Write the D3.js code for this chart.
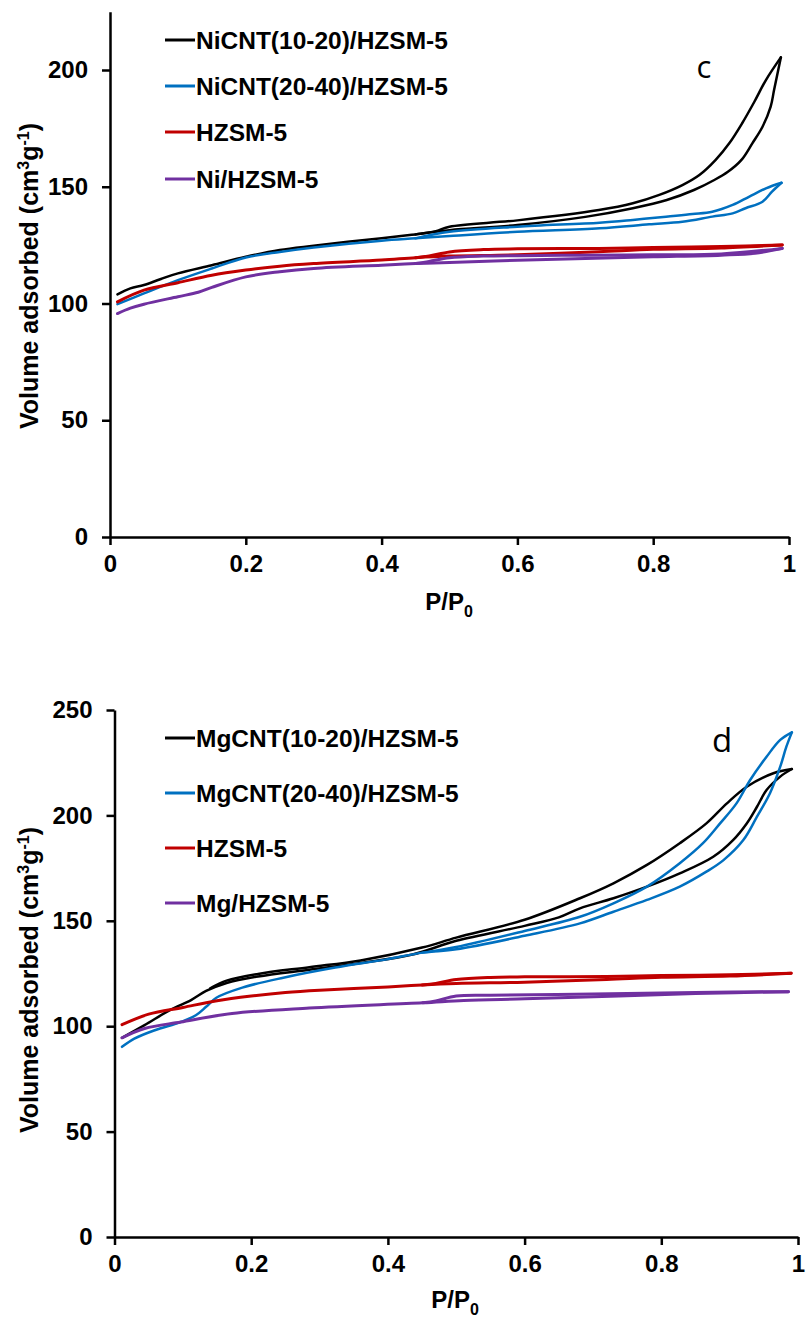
<!DOCTYPE html>
<html><head><meta charset="utf-8">
<script src="https://cdn.jsdelivr.net/npm/d3@7"></script>
<style>body{margin:0;background:#fff}svg{display:block}text{font-family:"Liberation Sans",Arial,sans-serif}</style>
</head><body><svg id="c" width="811" height="1317"></svg>
<script>
// ---------- Panel c data ----------
const legendC = ["NiCNT(10-20)/HZSM-5","NiCNT(20-40)/HZSM-5","HZSM-5","Ni/HZSM-5"];
const colors = ["#000000","#0070C0","#C00000","#7030A0"];
const yTicksC = [0,50,100,150,200];
const yTicksD = [0,50,100,150,200,250];
const xTicks = [0,0.2,0.4,0.6,0.8,1];

const niCnt1020Ads = [[0.011,103.9],[0.03,106.5],[0.05,107.9],[0.075,110.5],[0.1,112.9],[0.15,116.4],[0.2,120],[0.25,122.9],[0.3,124.7],[0.35,126.4],[0.4,127.9],[0.45,129.6],[0.5,131.4],[0.6,133.6],[0.7,137.1],[0.77,140.8],[0.82,144.3],[0.86,148.6],[0.89,152.9],[0.91,156.4],[0.93,161.5],[0.946,168.6],[0.961,175.7],[0.973,184.3],[0.978,191.4],[0.988,205.4]];
const niCnt1020Des = [[0.988,205.4],[0.966,195.7],[0.949,186.4],[0.931,177.2],[0.912,168.6],[0.892,161.5],[0.868,155],[0.843,150.7],[0.809,146.5],[0.77,142.9],[0.72,140],[0.6,135.6],[0.5,132.9],[0.48,131],[0.45,129.6]];
const niCnt2040Ads = [[0.011,99.7],[0.05,104.3],[0.1,110],[0.15,115],[0.2,119.7],[0.25,122.1],[0.3,124],[0.4,126.9],[0.45,127.9],[0.5,128.9],[0.6,130.7],[0.721,132.2],[0.794,133.9],[0.843,135],[0.887,137.2],[0.917,138.6],[0.936,140.8],[0.961,143.6],[0.975,147.9],[0.989,151.7]];
const niCnt2040Des = [[0.989,151.7],[0.966,149.3],[0.941,145.7],[0.917,142.2],[0.887,139.3],[0.858,138.3],[0.819,137.2],[0.77,135.8],[0.721,134.6],[0.6,132.9],[0.5,130.7],[0.45,127.9]];
const hzsmAds = [[0.011,100.7],[0.05,105.7],[0.1,108.9],[0.15,112.1],[0.2,114.3],[0.25,116],[0.3,117.1],[0.4,118.6],[0.45,119.6],[0.5,120.3],[0.6,120.9],[0.72,122.2],[0.8,123.2],[0.9,123.8],[0.99,125.1]];
const hzsmDes = [[0.99,125.1],[0.9,124.4],[0.8,124],[0.72,123.6],[0.6,123.4],[0.55,123.1],[0.5,122.1],[0.47,120.3],[0.45,119.6]];
const niHzsmAds = [[0.011,95.7],[0.03,98],[0.05,99.7],[0.1,102.9],[0.13,104.8],[0.15,106.9],[0.2,111.4],[0.25,113.6],[0.3,115],[0.4,116.4],[0.45,117.1],[0.5,117.6],[0.6,118.5],[0.7,119.3],[0.8,120],[0.9,120.7],[0.95,121.5],[0.99,123.6]];
const niHzsmDes = [[0.99,123.6],[0.9,121.2],[0.8,120.9],[0.7,120.7],[0.6,120.5],[0.55,120.3],[0.5,119.6],[0.47,118],[0.45,117.1]];

// ---------- Panel d data ----------
const legendD = ["MgCNT(10-20)/HZSM-5","MgCNT(20-40)/HZSM-5","HZSM-5","Mg/HZSM-5"];
const mgCnt1020Ads = [[0.011,94.5],[0.044,100.5],[0.081,107.6],[0.112,112.4],[0.134,116.7],[0.164,120.5],[0.21,123.6],[0.285,126.8],[0.36,130],[0.436,134],[0.5,140.5],[0.6,147.6],[0.65,151.6],[0.681,155.9],[0.73,160.7],[0.779,166.2],[0.827,172.5],[0.876,180.4],[0.905,188.3],[0.925,196.2],[0.94,204.1],[0.954,212],[0.974,218.4],[0.991,222]];
const mgCnt1020Des = [[0.991,222],[0.964,220],[0.925,213.6],[0.896,205.7],[0.866,196.2],[0.827,186.8],[0.779,176.5],[0.73,167.8],[0.681,160.7],[0.6,150.5],[0.5,142],[0.45,137.3],[0.36,131.2],[0.285,128],[0.21,124.8],[0.164,121.6],[0.14,118]];
const mgCnt2040Ads = [[0.011,90.2],[0.029,94.1],[0.059,98.1],[0.097,102],[0.119,105.2],[0.134,109.2],[0.149,113.5],[0.187,118.3],[0.247,123],[0.323,127.8],[0.398,131.7],[0.451,134.9],[0.5,136.5],[0.6,142.9],[0.681,148.8],[0.73,154.3],[0.779,159.9],[0.827,166.2],[0.866,173.3],[0.891,178.8],[0.92,188.3],[0.94,199.4],[0.959,210.5],[0.974,223.1],[0.983,232.6],[0.991,239.4]];
const mgCnt2040Des = [[0.991,239.4],[0.974,235.8],[0.954,227.8],[0.93,216.8],[0.91,205.7],[0.886,196.2],[0.861,186.8],[0.827,177.3],[0.779,166.2],[0.73,158.3],[0.681,151.9],[0.6,145.2],[0.5,137.6],[0.451,134.9]];
const mgHzsmAds = [[0.011,94.5],[0.044,98.9],[0.097,102],[0.172,106],[0.285,108.6],[0.451,111.1],[0.511,112.2],[0.6,113],[0.738,114.3],[0.85,115.5],[0.986,116.4]];
const mgHzsmDes = [[0.986,116.4],[0.85,116],[0.7,115.3],[0.55,114.7],[0.5,114.3],[0.47,112],[0.451,111.1]];

const widths = [2.5,2.5,3,3];
const svg = d3.select("#c");

function panel(cfg){
  const x = d3.scaleLinear().domain([0,1]).range(cfg.xr);
  const y = d3.scaleLinear().domain(cfg.yd).range(cfg.yr);
  const g = svg.append("g");
  const line = d3.line().x(d=>x(d[0])).y(d=>y(d[1])).curve(d3.curveCatmullRom.alpha(0.5));
  cfg.series.forEach((s,i)=>{
    [s[0],s[1]].forEach(arr=>{
      g.append("path").attr("d",line(arr)).attr("fill","none")
        .attr("stroke",colors[i]).attr("stroke-width",widths[i])
        .attr("stroke-linejoin","round").attr("stroke-linecap","round");
    });
  });
  const ya = g.append("g").attr("transform",`translate(${cfg.xr[0]},0)`)
    .call(d3.axisLeft(y).tickValues(cfg.yt).tickSize(8).tickSizeOuter(0).tickPadding(cfg.ypad));
  const xa = g.append("g").attr("transform",`translate(0,${cfg.yr[0]})`)
    .call(d3.axisBottom(x).tickValues(xTicks).tickSize(8).tickSizeOuter(0).tickPadding(10).tickFormat(d=>String(+d.toFixed(1))));
  [ya,xa].forEach(a=>{
    a.select(".domain").attr("stroke","#000").attr("stroke-width",2.5);
    a.selectAll(".tick line").attr("stroke","#000").attr("stroke-width",2.5);
    a.selectAll(".tick text").attr("fill","#000").style("font-size","24px").style("font-weight","bold");
  });
  const yt = g.append("text").attr("transform",`translate(${cfg.ytx},${cfg.yty}) rotate(-90)`)
    .attr("text-anchor","middle").style("font-size","25px").style("font-weight","bold");
  yt.append("tspan").text("Volume adsorbed (cm");
  yt.append("tspan").text("3").attr("dy",-9).style("font-size","16px");
  yt.append("tspan").text("g").attr("dy",9);
  yt.append("tspan").text("-1").attr("dy",-9).style("font-size","16px");
  yt.append("tspan").text(")").attr("dy",9);
  const xt = g.append("text").attr("x",cfg.xtx).attr("y",cfg.xty).attr("text-anchor","middle")
    .style("font-size","24px").style("font-weight","bold");
  xt.append("tspan").text("P/P");
  xt.append("tspan").text("0").attr("dy",7).style("font-size","16px");
  cfg.legend.forEach((t,i)=>{
    const ly = cfg.ly[i];
    g.append("line").attr("x1",165).attr("x2",195).attr("y1",ly).attr("y2",ly)
      .attr("stroke",colors[i]).attr("stroke-width",3);
    g.append("text").attr("x",196).attr("y",ly).attr("dominant-baseline","central")
      .style("font-size","24.5px").style("font-weight","bold").text(t);
  });
  g.append("text").attr("x",cfg.tagx).attr("y",cfg.tagy).attr("text-anchor","middle")
    .style("font-family","'Open Sans', Lato, sans-serif").style("font-size",cfg.tagfs+"px").text(cfg.tag);
}

panel({xr:[110,789], yd:[0,225], yr:[537, 537-225*2.335], yt:yTicksC, ypad:14,
  series:[[niCnt1020Ads,niCnt1020Des],[niCnt2040Ads,niCnt2040Des],[hzsmAds,hzsmDes],[niHzsmAds,niHzsmDes]],
  ytx:38, yty:276, xtx:449, xty:610, legend:legendC, ly:[40,86,132,179], tag:"c", tagx:704, tagy:78, tagfs:31});
panel({xr:[114.5,798], yd:[0,250], yr:[1237,710], yt:yTicksD, ypad:14,
  series:[[mgCnt1020Ads,mgCnt1020Des],[mgCnt2040Ads,mgCnt2040Des],[hzsmAds,hzsmDes],[mgHzsmAds,mgHzsmDes]],
  ytx:38, yty:980, xtx:455, xty:1308, legend:legendD, ly:[738,793,848,903], tag:"d", tagx:722, tagy:752, tagfs:33});
</script></body></html>
